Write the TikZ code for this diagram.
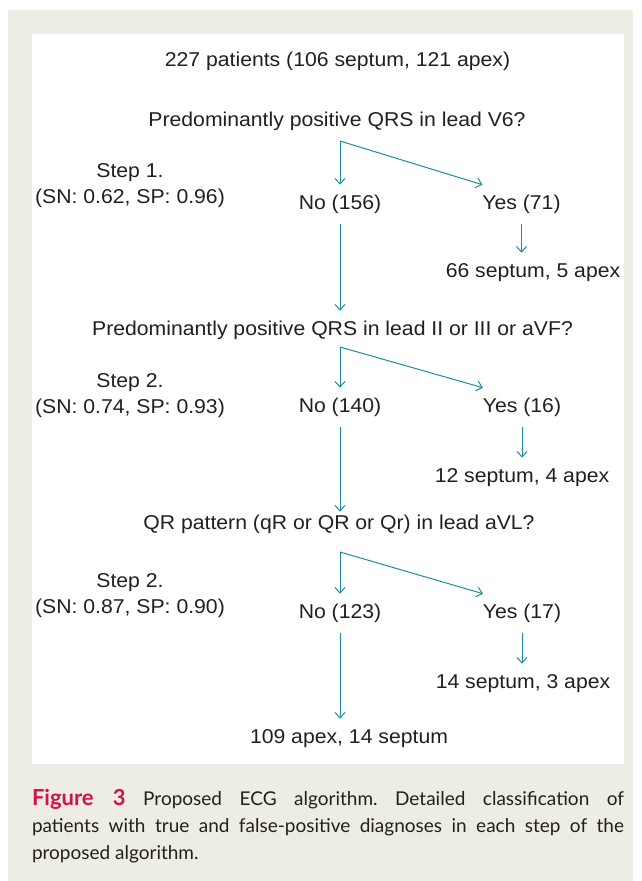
\documentclass[tikz,border=0pt]{standalone}
\usepackage{fontspec}
\setmainfont{Liberation Sans}[FakeStretch=1.06]
\newfontfamily\capfont{Lato}
\usetikzlibrary{arrows.meta}
\definecolor{paper}{HTML}{EEEDE3}
\definecolor{ink}{HTML}{231F20}
\definecolor{ecgteal}{HTML}{1E8C9B}
\definecolor{figred}{HTML}{D31145}

\begin{document}
\begin{tikzpicture}[x=1pt, y=-1pt,
  every node/.style = {inner sep=0pt, outer xsep=0pt, outer ysep=10pt,
    text height=14.3pt, text depth=4.5pt, anchor=base, text=ink,
    font=\fontsize{20}{26}\selectfont},
  steplbl/.style = {align=center, text height={}, text depth={}, outer ysep=0pt},
  capbox/.style = {anchor=north west, text width=592pt, align=justify,
    text height={}, text depth={}, outer ysep=0pt,
    font=\capfont\fontsize{19}{27}\selectfont\frenchspacing},
  arr/.style = {draw=ecgteal, line width=1pt,
    -{Straight Barb[length=5.5pt,width=10pt]}}]
  \useasboundingbox (0,0) rectangle (641,881);
  \fill[paper] (8,10) rectangle (633,881);
  \fill[white] (32,34) rectangle (624,764);

  % first question
  \node (pat) at (337.5,66) {227 patients (106 septum, 121 apex)};
  \node (q1) at (337,126) {Predominantly positive QRS in lead V6?};
  \coordinate (s1) at (340,141);
  \node (no1) at (340,209) {No (156)};
  \node (yes1) at (521.5,209) {Yes (71)};
  \node (res1) at (533,277) {66 septum, 5 apex};
  \node[steplbl] (st1) at (130,203) {Step 1.\\(SN: 0.62, SP: 0.96)};

  % second question
  \node (q2) at (332.5,335) {Predominantly positive QRS in lead II or III or aVF?};
  \coordinate (s2) at (340,347);
  \node (no2) at (340,412) {No (140)};
  \node (yes2) at (522,412) {Yes (16)};
  \node (res2) at (522,482) {12 septum, 4 apex};
  \node[steplbl] (st2) at (130,413) {Step 2.\\(SN: 0.74, SP: 0.93)};

  % third question
  \node (q3) at (339,529) {QR pattern (qR or QR or Qr) in lead aVL?};
  \coordinate (s3) at (340,552);
  \node (no3) at (340,618) {No (123)};
  \node (yes3) at (522,618) {Yes (17)};
  \node (res3) at (523,688) {14 septum, 3 apex};
  \node[steplbl] (st3) at (130,613) {Step 2.\\(SN: 0.87, SP: 0.90)};
  \node (fin) at (349,743) {109 apex, 14 septum};

  \draw[arr] (s1) -- (no1.north);
  \draw[arr] (s1) -- (yes1.north west);
  \draw[arr] (yes1.south) -- (yes1.south |- res1.north);
  \draw[arr] (no1.south) -- (no1.south |- q2.north);
  \draw[arr] (s2) -- (no2.north);
  \draw[arr] (s2) -- (yes2.north west);
  \draw[arr] (yes2.south) -- (yes2.south |- res2.north);
  \draw[arr, shorten >=-7pt] (no2.south) -- (no2.south |- q3.north);
  \draw[arr] (s3) -- (no3.north);
  \draw[arr] (s3) -- (yes3.north west);
  \draw[arr] (yes3.south) -- (yes3.south |- res3.north);
  \draw[arr] (no3.south) -- (no3.south |- fin.north);

  \node[capbox] (cap) at (32,789) {{\fontsize{22}{27}\selectfont\bfseries\color{figred}Figure 3}
    Proposed ECG algorithm. Detailed classification of\linebreak patients with
    true and false-positive diagnoses in each step of the\linebreak proposed
    algorithm.};
\end{tikzpicture}
\end{document}
